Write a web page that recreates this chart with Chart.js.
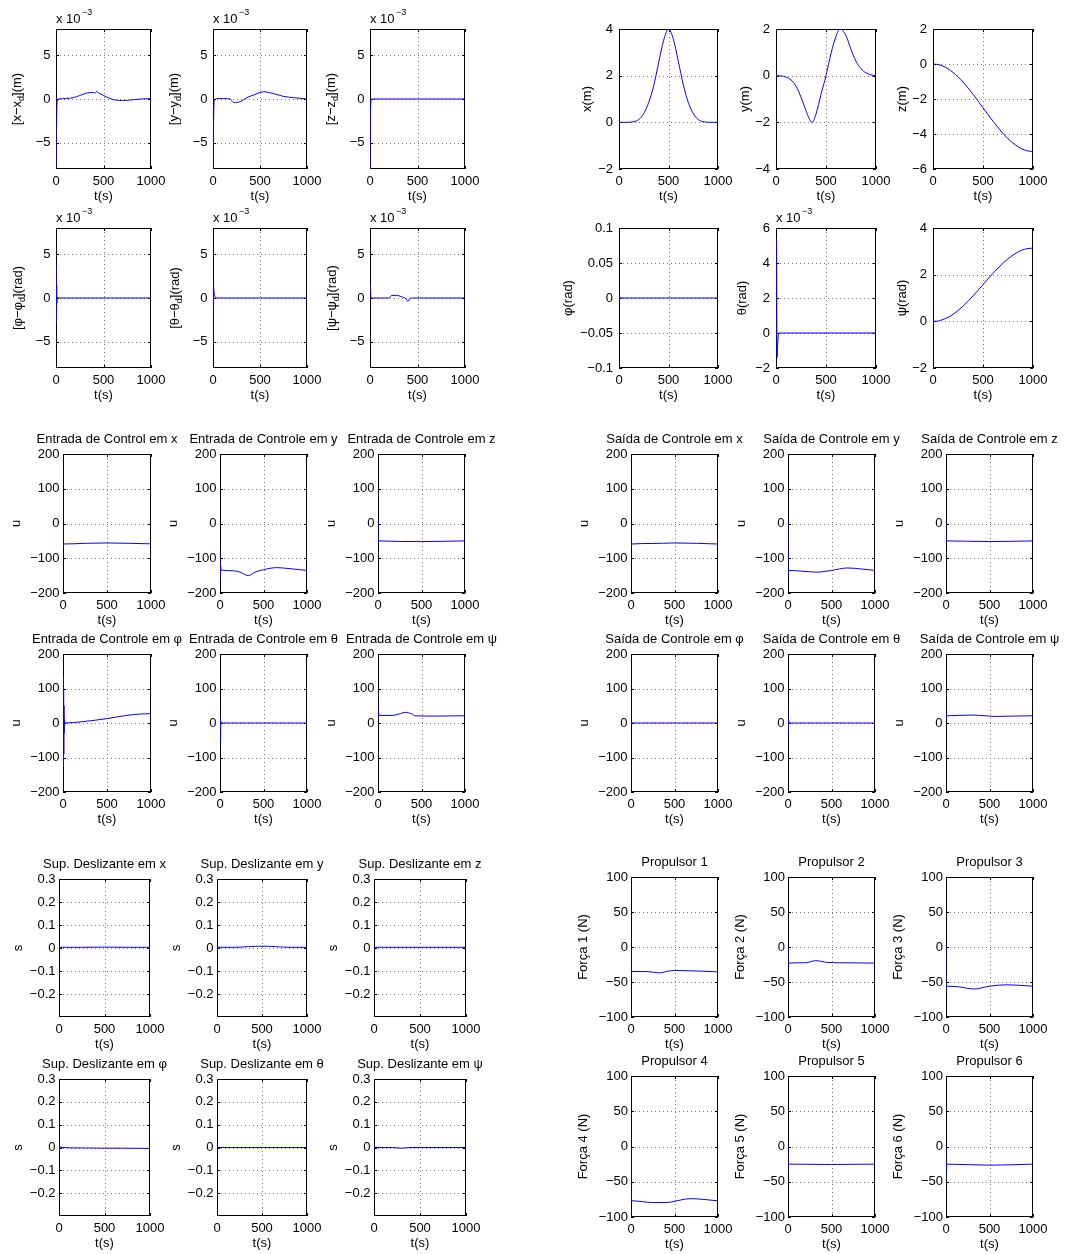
<!DOCTYPE html>
<html><head><meta charset="utf-8">
<script src="https://cdn.jsdelivr.net/npm/chart.js@4/dist/chart.umd.min.js"></script>
<style>
html,body{margin:0;padding:0;background:#fff}
body{width:1067px;height:1254px;position:relative;overflow:hidden}
canvas{position:absolute}
</style>
</head><body>
<script>
// ---------- tick labels ----------
const xTicks = [0, 500, 1000];
const tkErr = [-5, 0, 5];
const tkX = [-2, 0, 2, 4];
const tkY = [-4, -2, 0, 2];
const tkZ = [-6, -4, -2, 0, 2];
const tkPhi = [-0.1, -0.05, 0, 0.05, 0.1];
const tkTh = [-2, 0, 2, 4, 6];
const tkPsi = [-2, 0, 2, 4];
const tkU = [-200, -100, 0, 100, 200];
const tkS = [-0.2, -0.1, 0, 0.1, 0.2, 0.3];
const tkF = [-100, -50, 0, 50, 100];

// ---------- tracking errors (x 10^-3) ----------
const tEx = [0, 4, 8, 15, 30, 100, 180, 250, 324, 395, 412, 429, 445, 465, 535, 623, 711, 817, 900, 1000];
const vEx = [-20, -6, -1.5, -0.2, 0, 0.05, 0.15, 0.4, 0.68, 0.75, 0.65, 0.88, 0.72, 0.6, 0.22, -0.12, -0.17, -0.08, 0, 0.05];
const tEy = [0, 4, 8, 15, 40, 100, 184, 200, 219, 290, 360, 431, 537, 643, 749, 855, 1000];
const vEy = [-20, -6, -1.5, -0.2, 0.05, 0.05, 0, -0.2, -0.4, -0.3, 0.15, 0.45, 0.83, 0.62, 0.3, 0.15, 0];
const tEz = [0, 4, 8, 15, 1000];
const vEz = [-20, -4, -0.5, 0, 0];
const tEphi = [0, 3, 5, 7, 9, 12, 20, 1000];
const vEphi = [0, 3.7, -2.8, 1.5, -0.6, 0.1, 0, 0];
const tEth = [0, 3, 6, 10, 20, 30, 1000];
const vEth = [-5.4, -1, 1.3, 0.8, 0.2, 0, 0];
const tEps = [0, 3, 8, 15, 200, 230, 280, 330, 380, 400, 420, 450, 1000];
const vEps = [0, 1.5, 0.3, 0, 0, 0.3, 0.3, 0.15, -0.1, -0.4, -0.05, 0, 0];

// ---------- states ----------
const tPx = [0, 50, 100, 150, 200, 250, 300, 350, 400, 450, 500, 550, 600, 650, 700, 750, 800, 850, 900, 950, 1000];
const vPx = [0, 0, 0.005, 0.03, 0.12, 0.38, 0.85, 1.55, 2.55, 3.5, 4, 3.55, 2.6, 1.6, 0.85, 0.38, 0.12, 0.03, 0.005, 0, 0];
const tPy = [0, 50, 100, 150, 200, 250, 300, 360, 400, 450, 500, 550, 600, 640, 700, 750, 800, 850, 900, 950, 1000];
const vPy = [0, -0.01, -0.06, -0.18, -0.45, -0.92, -1.5, -2, -1.65, -0.8, 0, 0.95, 1.68, 2, 1.72, 1.12, 0.62, 0.3, 0.12, 0.03, 0];
const tPz = [0, 50, 100, 150, 200, 250, 300, 350, 400, 450, 500, 550, 600, 650, 700, 750, 800, 850, 900, 950, 1000];
const vPz = [0, -0.03, -0.12, -0.27, -0.48, -0.73, -1.03, -1.37, -1.73, -2.11, -2.5, -2.89, -3.27, -3.63, -3.97, -4.27, -4.52, -4.73, -4.88, -4.97, -5];
const tAphi = [0, 3, 5, 7, 10, 1000];
const vAphi = [0, 0.002, -0.002, 0.001, 0, 0];
const tAth = [0, 5, 10, 18, 30, 1000];
const vAth = [0, 5.4, -1.4, -0.5, 0, 0];
const tApsi = [0, 50, 100, 150, 200, 250, 300, 350, 400, 450, 500, 550, 600, 650, 700, 750, 800, 850, 900, 950, 1000];
const vApsi = [0, 0.01, 0.08, 0.17, 0.3, 0.46, 0.65, 0.86, 1.09, 1.33, 1.57, 1.82, 2.06, 2.28, 2.49, 2.68, 2.84, 2.97, 3.07, 3.12, 3.14];

// ---------- control input (Entrada) ----------
const tUx = [0, 4, 7, 12, 250, 500, 750, 1000];
const vUx = [-6, -66, -57, -59, -57, -56, -57, -58.5];
const tUy = [0, 4, 7, 12, 153, 230, 326, 402, 498, 651, 805, 1000];
const vUy = [-80, -160, -120, -134, -136, -140, -150, -140, -133, -127, -130, -135];
const tUz = [0, 4, 7, 12, 500, 1000];
const vUz = [4, -55, -48, -50, -52, -50];
const tUphi = [0, 3, 5, 7, 9, 11, 13, 16, 22, 229, 496, 725, 878, 1000];
const vUphi = [0, 135, -127, 100, -90, 50, -30, 10, 0, 4, 12.6, 22, 26, 27];
const tUth = [0, 3, 6, 9, 15, 1000];
const vUth = [0, 18, -54, 5, 0, 0];
const tUpsi = [0, 4, 7, 12, 160, 256, 313, 389, 427, 637, 1000];
const vUpsi = [57, 22, 30, 22, 22, 27, 31, 26, 21, 20, 21];

// ---------- control output (Saída) ----------
const tOx = [0, 4, 9, 250, 500, 750, 1000];
const vOx = [0, -66, -59, -57.5, -56, -57, -59];
const tOy = [0, 4, 9, 150, 330, 500, 680, 850, 1000];
const vOy = [0, -145, -135, -137, -140, -135, -128, -131, -135];
const tOz = [0, 4, 9, 500, 1000];
const vOz = [0, -55, -50, -52, -50];
const tOphi = [0, 1000];
const vOphi = [0, 0];
const tOth = [0, 3, 5, 7, 11, 1000];
const vOth = [0, 20, -25, 10, 0, 0];
const tOpsi = [0, 4, 9, 150, 300, 450, 550, 750, 1000];
const vOpsi = [0, 30, 21, 22, 23, 21, 19, 20, 21];

// ---------- sliding surfaces ----------
const tSx = [0, 250, 500, 750, 1000];
const vSx = [0.003, 0.003, 0.004, 0.003, 0.003];
const tSy = [0, 200, 350, 500, 650, 800, 1000];
const vSy = [0.003, 0.003, 0.006, 0.008, 0.006, 0.003, 0.003];
const tSz = [0, 4, 9, 1000];
const vSz = [-0.01, 0.003, 0.003, 0.003];
const tSphi = [0, 3, 5, 8, 15, 300, 500, 700, 1000];
const vSphi = [0, 0.02, -0.015, 0.005, 0, -0.002, -0.003, -0.003, -0.004];
const tSth = [0, 4, 10, 1000];
const vSth = [0.005, 0, 0, 0];
const tSpsi = [0, 200, 300, 400, 1000];
const vSpsi = [0, 0, -0.003, 0, 0];

// ---------- thruster forces ----------
const tF1 = [0, 4, 9, 200, 320, 450, 500, 1000];
const vF1 = [0, -38, -35, -35.2, -37, -34, -33.5, -35.5];
const tF2 = [0, 4, 9, 200, 320, 450, 600, 1000];
const vF2 = [0, -25, -23, -22.5, -19.5, -22, -22.5, -23];
const tF3 = [0, 4, 9, 150, 320, 500, 700, 1000];
const vF3 = [0, -62, -56, -57, -60, -56, -54, -56];
const tF4 = [0, 4, 9, 250, 400, 680, 1000];
const vF4 = [0, -78, -77, -79.5, -79.5, -74, -77];
const tF5 = [0, 3, 6, 10, 500, 1000];
const vF5 = [5, -35, -25, -25, -25.5, -25];
const tF6 = [0, 4, 9, 500, 1000];
const vF6 = [0, -40, -25, -26.5, -25];

// ---------- layout ----------
const FONT = "'Liberation Sans', Arial, Helvetica, sans-serif";
const PADL = 75, PADR = 45, PADT = 32, PADB = 40;
const colsA = [[56, 151], [213, 307], [370, 465]];
const colsB = [[619, 718], [776, 876], [933, 1033]];
const colsC = [[63, 151], [220, 307], [378, 465]];
const colsD = [[631, 718], [788, 875], [946, 1033]];
const colsE = [[59, 150], [217, 307], [374, 466]];
const rowsA = [[29, 169], [228, 368]];
const rowsB = [[454, 593], [654, 792]];
const rowsC = [[879, 1017], [1079, 1216]];
const rowsD = [[877, 1017], [1076, 1217]];

const specs = [];
function add(c, r, t, v, yr, yt, yl, yo, o) { specs.push(Object.assign({c, r, t, v, yr, yt, yl, yo, tp: 4, exp: false, title: ''}, o || {})); }

const errLbl = (a, u) => [[ '[' + a + '−' + a ], ['d', 1], [']' + u]];
add(colsA[0], rowsA[0], tEx, vEx, [-8, 8], tkErr, errLbl('x', '(m)'), 38, {exp: true, tp: 5.5});
add(colsA[1], rowsA[0], tEy, vEy, [-8, 8], tkErr, errLbl('y', '(m)'), 38, {exp: true, tp: 5.5});
add(colsA[2], rowsA[0], tEz, vEz, [-8, 8], tkErr, errLbl('z', '(m)'), 38, {exp: true, tp: 5.5});
add(colsA[0], rowsA[1], tEphi, vEphi, [-8, 8], tkErr, errLbl('φ', '(rad)'), 37, {exp: true, tp: 5.5});
add(colsA[1], rowsA[1], tEth, vEth, [-8, 8], tkErr, errLbl('θ', '(rad)'), 37, {exp: true, tp: 5.5});
add(colsA[2], rowsA[1], tEps, vEps, [-8, 8], tkErr, errLbl('ψ', '(rad)'), 37, {exp: true, tp: 5.5});

add(colsB[0], rowsA[0], tPx, vPx, [-2, 4], tkX, [['x(m)']], 31, {tp: 6});
add(colsB[1], rowsA[0], tPy, vPy, [-4, 2], tkY, [['y(m)']], 30, {tp: 6});
add(colsB[2], rowsA[0], tPz, vPz, [-6, 2], tkZ, [['z(m)']], 30, {tp: 6});
add(colsB[0], rowsA[1], tAphi, vAphi, [-0.1, 0.1], tkPhi, [['φ(rad)']], 50, {tp: 6});
add(colsB[1], rowsA[1], tAth, vAth, [-2, 6], tkTh, [['θ(rad)']], 33, {tp: 6, exp: true});
add(colsB[2], rowsA[1], tApsi, vApsi, [-2, 4], tkPsi, [['ψ(rad)']], 30, {tp: 6});

const inT = ['Entrada de Control em x', 'Entrada de Controle em y', 'Entrada de Controle em z',
             'Entrada de Controle em φ', 'Entrada de Controle em θ', 'Entrada de Controle em ψ'];
const inD = [[tUx, vUx], [tUy, vUy], [tUz, vUz], [tUphi, vUphi], [tUth, vUth], [tUpsi, vUpsi]];
inD.forEach((d, i) => add(colsC[i % 3], rowsB[Math.floor(i / 3)], d[0], d[1], [-200, 200], tkU, [['u']], 46.5, {title: inT[i], tp: 3.5}));

const outT = ['Saída de Controle em x', 'Saída de Controle em y', 'Saída de Controle em z',
              'Saída de Controle em φ', 'Saída de Controle em θ', 'Saída de Controle em ψ'];
const outD = [[tOx, vOx], [tOy, vOy], [tOz, vOz], [tOphi, vOphi], [tOth, vOth], [tOpsi, vOpsi]];
outD.forEach((d, i) => add(colsD[i % 3], rowsB[Math.floor(i / 3)], d[0], d[1], [-200, 200], tkU, [['u']], 46, {title: outT[i], tp: 3.5}));

const sT = ['Sup. Deslizante em x', 'Sup. Deslizante em y', 'Sup. Deslizante em z',
            'Sup. Deslizante em φ', 'Sup. Deslizante em θ', 'Sup. Deslizante em ψ'];
const sD = [[tSx, vSx], [tSy, vSy], [tSz, vSz], [tSphi, vSphi], [tSth, vSth], [tSpsi, vSpsi]];
sD.forEach((d, i) => add(colsE[i % 3], rowsC[Math.floor(i / 3)], d[0], d[1], [-0.3, 0.3], tkS, [['s']], 40.5, {title: sT[i], tp: 3.5}));

const fD = [[tF1, vF1], [tF2, vF2], [tF3, vF3], [tF4, vF4], [tF5, vF5], [tF6, vF6]];
fD.forEach((d, i) => add(colsD[i % 3], rowsD[Math.floor(i / 3)], d[0], d[1], [-100, 100], tkF, [['Força ' + (i + 1) + ' (N)']], 47, {title: 'Propulsor ' + (i + 1), tp: 3}));

// ---------- drawing helpers ----------
const fmt = v => String(Math.round(v * 1000) / 1000).replace('-', '−');

const deco = {
  id: 'deco',
  beforeDatasetsDraw(chart, args, o) {
    const {ctx, chartArea: a, scales} = chart;
    ctx.save();
    // dotted grid
    ctx.strokeStyle = '#7a7a7a';
    ctx.lineWidth = 1;
    ctx.setLineDash([1, 3]);
    for (const v of o.yt) {
      if (v <= o.yr[0] || v >= o.yr[1]) continue;
      const py = Math.round(scales.y.getPixelForValue(v)) + 0.5;
      ctx.beginPath(); ctx.moveTo(a.left, py); ctx.lineTo(a.right, py); ctx.stroke();
    }
    for (const v of xTicks) {
      if (v <= 0 || v >= 1000) continue;
      const px = Math.round(scales.x.getPixelForValue(v)) + 0.5;
      ctx.beginPath(); ctx.moveTo(px, a.top); ctx.lineTo(px, a.bottom); ctx.stroke();
    }
    // frame
    ctx.strokeStyle = '#000';
    ctx.setLineDash([]);
    ctx.strokeRect(a.left + 0.5, a.top + 0.5, a.right - a.left - 1, a.bottom - a.top - 1);
    // inward tick marks
    ctx.beginPath();
    for (const v of o.yt) {
      const py = Math.round(scales.y.getPixelForValue(v)) + 0.5;
      ctx.moveTo(a.left, py); ctx.lineTo(a.left + 3, py);
      ctx.moveTo(a.right, py); ctx.lineTo(a.right - 3, py);
    }
    for (const v of xTicks) {
      const px = Math.round(scales.x.getPixelForValue(v)) + 0.5;
      ctx.moveTo(px, a.bottom); ctx.lineTo(px, a.bottom - 3);
      ctx.moveTo(px, a.top); ctx.lineTo(px, a.top + 3);
    }
    ctx.stroke();
    ctx.restore();
  },
  afterDatasetsDraw(chart, args, o) {
    const {ctx, chartArea: a} = chart;
    ctx.save();
    ctx.fillStyle = '#000';
    const cxm = (a.left + a.right) / 2;
    // title
    if (o.title) {
      ctx.font = '13px ' + FONT;
      ctx.textAlign = 'center';
      ctx.textBaseline = 'alphabetic';
      ctx.fillText(o.title, cxm, a.top - 11);
    }
    // x label
    ctx.font = '13px ' + FONT;
    ctx.textAlign = 'center';
    ctx.textBaseline = 'alphabetic';
    ctx.fillText('t(s)', cxm, a.bottom + 30.5);
    // exponent
    if (o.exp) {
      ctx.textAlign = 'left';
      ctx.font = '13px ' + FONT;
      ctx.fillText('x 10', a.left, a.top - 6);
      const w = ctx.measureText('x 10').width;
      ctx.font = '9px ' + FONT;
      ctx.fillText('−3', a.left + w + 1.5, a.top - 14);
    }
    // y label (rotated, rich text)
    ctx.translate(a.left - o.yo + 3.4, (a.top + a.bottom) / 2);
    ctx.rotate(-Math.PI / 2);
    ctx.textAlign = 'left';
    let total = 0;
    const parts = o.yl.map(([s, sub]) => {
      ctx.font = (sub ? '9px ' : '13px ') + FONT;
      const w = ctx.measureText(s).width;
      total += w;
      return {s, sub, w};
    });
    let x = -total / 2;
    for (const p of parts) {
      ctx.font = (p.sub ? '9px ' : '13px ') + FONT;
      ctx.fillText(p.s, x, p.sub ? 3 : 0);
      x += p.w;
    }
    ctx.restore();
  }
};

specs.forEach(p => {
  const [L, R] = p.c, [T, B] = p.r;
  const cw = R - L + PADL + PADR, ch = B - T + PADT + PADB;
  const cv = document.createElement('canvas');
  cv.width = cw; cv.height = ch;
  cv.style.left = (L - PADL) + 'px';
  cv.style.top = (T - PADT) + 'px';
  cv.style.width = cw + 'px';
  cv.style.height = ch + 'px';
  document.body.appendChild(cv);
  new Chart(cv, {
    type: 'line',
    data: {
      datasets: [{
        data: p.t.map((t, i) => ({x: t, y: p.v[i]})),
        borderColor: '#0000ff',
        borderWidth: 1,
        pointRadius: 0,
        fill: false,
        cubicInterpolationMode: 'monotone'
      }]
    },
    options: {
      animation: false,
      responsive: false,
      maintainAspectRatio: false,
      devicePixelRatio: 1,
      events: [],
      layout: {padding: {left: 0, top: PADT, right: PADR, bottom: 0}},
      plugins: {
        legend: {display: false},
        tooltip: {enabled: false},
        title: {display: false},
        deco: {yt: p.yt, yr: p.yr, yl: p.yl, yo: p.yo, exp: p.exp, title: p.title}
      },
      scales: {
        x: {
          type: 'linear', position: 'bottom', min: 0, max: 1000,
          afterBuildTicks: s => { s.ticks = xTicks.map(v => ({value: v})); },
          afterFit: s => { s.height = PADB; },
          grid: {display: false, drawTicks: false},
          border: {display: false},
          ticks: {padding: 5, autoSkip: false, maxRotation: 0, minRotation: 0, color: '#000',
                  font: {family: FONT, size: 13}, callback: v => fmt(v)}
        },
        y: {
          type: 'linear', position: 'left', min: p.yr[0], max: p.yr[1],
          afterBuildTicks: s => { s.ticks = p.yt.map(v => ({value: v})); },
          afterFit: s => { s.width = PADL; },
          grid: {display: false, drawTicks: false},
          border: {display: false},
          ticks: {padding: p.tp, autoSkip: false, color: '#000',
                  font: {family: FONT, size: 13}, callback: v => fmt(v)}
        }
      }
    },
    plugins: [deco]
  });
});
</script>
</body></html>
